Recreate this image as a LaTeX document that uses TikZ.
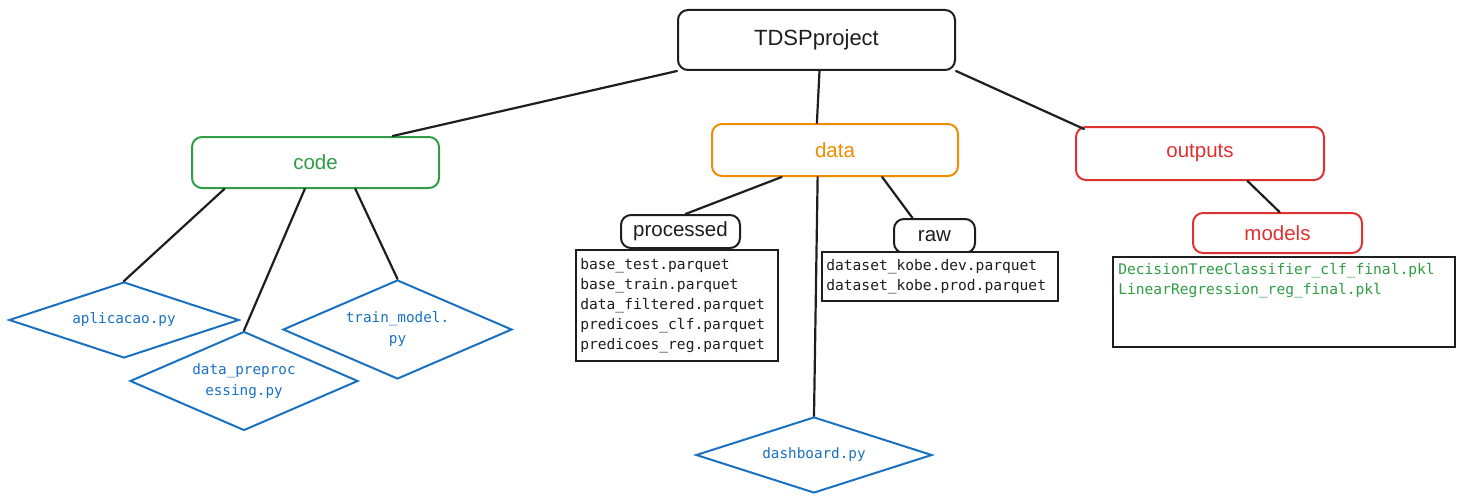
\documentclass[tikz,border=0pt]{standalone}
\usepackage{fontspec}
\setmainfont{Liberation Sans}
\setmonofont{DejaVu Sans Mono}
\usetikzlibrary{shapes.geometric,calc}
\definecolor{exgreen}{HTML}{2F9E44}
\definecolor{exorange}{HTML}{F08C00}
\definecolor{exred}{HTML}{E03131}
\definecolor{exblue}{HTML}{1971C2}
\definecolor{exblack}{HTML}{1E1E1E}
\tikzset{
  folder/.style={draw=#1, text=#1, line width=2pt, rounded corners=10pt, fill=white,
    font=\fontsize{20.5}{24}\selectfont, inner sep=0pt},
  listbox/.style={draw=exblack, line width=1.8pt, fill=white, inner sep=0pt},
  listtext/.style={anchor=north west, align=left, inner sep=0pt,
    font=\ttfamily\fontsize{14.6}{20}\selectfont, text=exblack},
  pyfile/.style={diamond, draw=exblue, text=exblue, line width=2pt, inner sep=0pt,
    align=center, font=\ttfamily\fontsize{14.3}{21}\selectfont},
  link/.style={draw=exblack, line width=2.2pt, line cap=round}
}
\begin{document}
\begin{tikzpicture}[x=1pt,y=-1pt]
\useasboundingbox (0,0) rectangle (1465,503);
% folders
\node[folder=exblack, minimum width=277, minimum height=60, font=\fontsize{22}{26}\selectfont] (tdsp) at (816.5,40) {TDSPproject};
\node[folder=exgreen, minimum width=247, minimum height=51] (code) at (315.5,162.5) {code};
\node[folder=exorange, minimum width=246, minimum height=52] (data) at (835,150) {data};
\node[folder=exred, minimum width=248, minimum height=53] (outputs) at (1200,153.5) {outputs};
\node[folder=exblack, minimum width=119, minimum height=33] (processed) at (680.5,231.5) {processed};
\node[folder=exblack, minimum width=81, minimum height=34] (raw) at (934.5,236) {raw};
\node[folder=exred, minimum width=169, minimum height=40] (models) at (1277.5,233) {models};
% list boxes
\node[listbox, minimum width=202, minimum height=111] (procbox) at (677,305.5) {};
\node[listtext] (proctext) at ($(procbox.north west)+(5,9)$) {base\_test.parquet\\base\_train.parquet\\data\_filtered.parquet\\predicoes\_clf.parquet\\predicoes\_reg.parquet};
\node[listbox, minimum width=236, minimum height=49] (rawbox) at (940,276.5) {};
\node[listtext] (rawtext) at ($(rawbox.north west)+(5,8)$) {dataset\_kobe.dev.parquet\\dataset\_kobe.prod.parquet};
\node[listbox, minimum width=342, minimum height=90] (modbox) at (1284,302) {};
\node[listtext, text=exgreen] (modtext) at ($(modbox.north west)+(6,7)$) {DecisionTreeClassifier\_clf\_final.pkl\\LinearRegression\_reg\_final.pkl};
% python files
\node[pyfile, aspect=3.03, minimum width=230, minimum height=76] (aplic) at (124,320) {aplicacao.py};
\node[pyfile, aspect=2.3, minimum width=228, minimum height=99] (preproc) at (244,381) {data\_preproc\\essing.py};
\node[pyfile, aspect=2.31, minimum width=229, minimum height=99] (train) at (397.5,329.5) {train\_model.\\py};
\node[pyfile, aspect=3.1, minimum width=236, minimum height=76] (dash) at (814,455) {dashboard.py};
% connectors
\draw[link] (tdsp.south west) -- ($(code.north)!0.62!(code.north east)$);
\draw[link] ($(tdsp.south)+(3,0)$) -- ($(data.north west)!0.427!(data.north east)$);
\draw[link] (tdsp.south east) -- ($(outputs.north west)+(9,3)$);
\draw[link] ($(data.south west)!0.285!(data.south east)$) -- ($(processed.north)+(5,0)$);
\draw[link] ($(data.south west)!0.69!(data.south east)$) -- ($(raw.north west)!0.235!(raw.north east)$);
\draw[link] ($(data.south west)!0.43!(data.south east)$) -- (dash.north);
\draw[link] ($(outputs.south west)!0.69!(outputs.south east)$) -- ($(models.north)+(2,0)$);
\draw[link] ($(code.south west)!0.134!(code.south east)$) -- (aplic.north);
\draw[link] ($(code.south west)!0.457!(code.south east)$) -- (preproc.north);
\draw[link] ($(code.south west)!0.66!(code.south east)$) -- (train.north);
\end{tikzpicture}
\end{document}
